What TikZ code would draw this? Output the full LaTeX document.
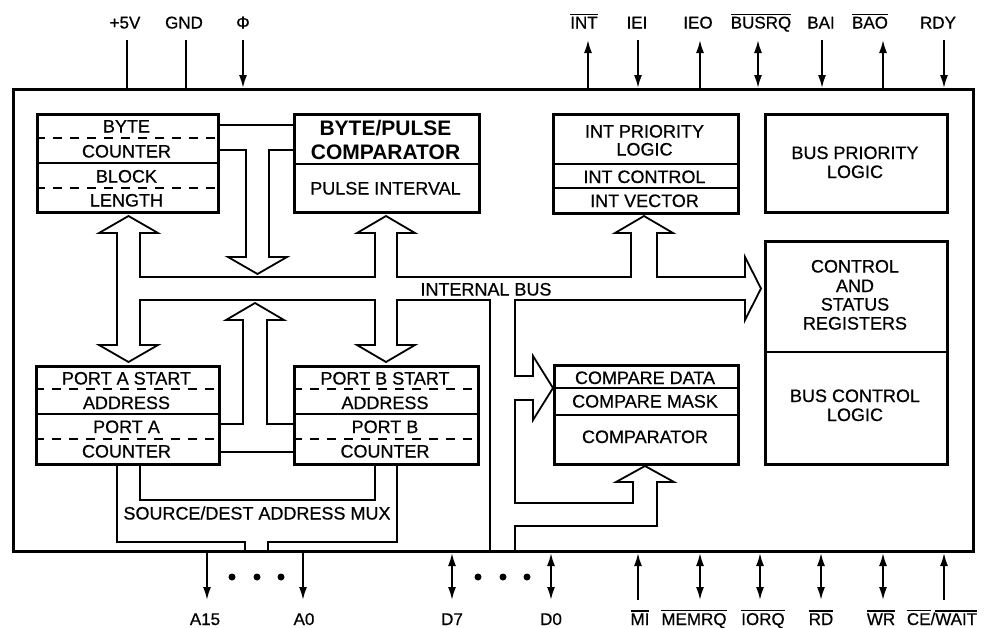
\documentclass[tikz,border=0pt]{standalone}
\usepackage{fontspec}
\setmainfont{Liberation Sans}
\newfontfamily\medfont{Liberation Sans}[FakeBold=0.6]
\usetikzlibrary{arrows.meta}
\newcommand\ovl[1]{\leavevmode\vbox{\hrule height 1.1pt\kern 1.8pt\hbox{#1}}}
\begin{document}
\begin{tikzpicture}[x=1pt,y=-1pt,
  >={Latex[length=13pt,width=8pt]},
  blk/.style={draw, line width=2.6pt, inner sep=0, anchor=north west},
  bus/.style={draw, line width=1.8pt, line join=miter},
  div/.style={line width=1.8pt},
  dsh/.style={line width=1.8pt, dash pattern=on 9pt off 8pt},
  txt/.style={anchor=base, inner sep=0, font=\medfont\fontsize{18}{20}\selectfont},
  ttl/.style={anchor=base, inner sep=0, font=\fontsize{21}{23}\selectfont\bfseries},
  pinl/.style={anchor=base, inner sep=0, font=\medfont\fontsize{17}{19}\selectfont},
  pin/.style={line width=1.8pt},
  dot/.style={fill=black}]
\useasboundingbox (0,0) rectangle (984,627);

% chip outline
\node[blk] (chip) at (12,88) [minimum width=960pt, minimum height=462pt] {};

% blocks
\node[blk, minimum width=181pt, minimum height=98pt] (bc) at (36,113) {};
\node[blk, minimum width=185pt, minimum height=98pt] (bp) at (293,113) {};
\node[blk, minimum width=185pt, minimum height=99pt] (ip) at (552,113) {};
\node[blk, minimum width=182pt, minimum height=98pt] (bpl) at (764,113) {};
\node[blk, minimum width=182pt, minimum height=223pt] (cs) at (764,240) {};
\node[blk, minimum width=183pt, minimum height=98pt] (pa) at (35,365) {};
\node[blk, minimum width=184pt, minimum height=98pt] (pb) at (293,365) {};
\node[blk, minimum width=184pt, minimum height=99pt] (cmp) at (553,364) {};

% dividers
\draw[dsh] (36,138) -- (217,138);
\draw[div] (36,163) -- (217,163);
\draw[dsh] (36,188) -- (217,188);
\draw[div] (293,164) -- (478,164);
\draw[div] (552,164) -- (737,164);
\draw[div] (552,188) -- (737,188);
\draw[div] (764,352) -- (946,352);
\draw[dsh] (35,389) -- (218,389);
\draw[div] (35,414) -- (218,414);
\draw[dsh] (35,439) -- (218,439);
\draw[dsh] (293,389) -- (477,389);
\draw[div] (293,414) -- (477,414);
\draw[dsh] (293,439) -- (477,439);
\draw[div] (553,388) -- (737,388);
\draw[div] (553,415) -- (737,415);

% block texts
\node[txt] (t1) at (126.5,132.5) {BYTE};
\node[txt] (t2) at (126.5,157.5) {COUNTER};
\node[txt] (t3) at (126.5,182.5) {BLOCK};
\node[txt] (t4) at (126.5,206.5) {LENGTH};
\node[ttl] (t5) at (385.5,135) {BYTE/PULSE};
\node[ttl] (t6) at (385.5,159) {COMPARATOR};
\node[txt] (t7) at (385.5,194.5) {PULSE INTERVAL};
\node[txt] (t8) at (644.5,137.5) {INT PRIORITY};
\node[txt] (t9) at (644.5,155.5) {LOGIC};
\node[txt] (t10) at (644.5,183) {INT CONTROL};
\node[txt] (t11) at (644.5,207) {INT VECTOR};
\node[txt] (t12) at (855,159) {BUS PRIORITY};
\node[txt] (t13) at (855,178) {LOGIC};
\node[txt] (t14) at (855,272.5) {CONTROL};
\node[txt] (t15) at (855,292) {AND};
\node[txt] (t16) at (855,310.5) {STATUS};
\node[txt] (t17) at (855,329.5) {REGISTERS};
\node[txt] (t18) at (855,402) {BUS CONTROL};
\node[txt] (t19) at (855,421) {LOGIC};
\node[txt] (t20) at (126.5,384.5) {PORT A START};
\node[txt] (t21) at (126.5,409) {ADDRESS};
\node[txt] (t22) at (126.5,433) {PORT A};
\node[txt] (t23) at (126.5,457.5) {COUNTER};
\node[txt] (t24) at (385,384.5) {PORT B START};
\node[txt] (t25) at (385,409) {ADDRESS};
\node[txt] (t26) at (385,433) {PORT B};
\node[txt] (t27) at (385,457.5) {COUNTER};
\node[txt] (t28) at (645,384) {COMPARE DATA};
\node[txt] (t29) at (645,407.5) {COMPARE MASK};
\node[txt] (t30) at (645,443) {COMPARATOR};
\node[txt] (ib) at (486,295.5) {INTERNAL BUS};
\node[txt] (mux) at (257,519.5) {SOURCE/DEST ADDRESS MUX};

% byte counter <-> comparator
\draw[bus] (217,125) -- (293,125);
\draw[bus] (217,150) -- (246,150) -- (246,257) -- (228,257) -- (257.5,274) -- (287,257) -- (269,257) -- (269,150) -- (293,150);

% port A <-> port B, up to bus
\draw[bus] (218,424) -- (243,424) -- (243,320) -- (226,320) -- (255,303) -- (284,320) -- (267,320) -- (267,424) -- (293,424);
\draw[bus] (218,452) -- (293,452);

% internal bus outline
\draw[bus] (490,550) -- (490,300) -- (397,300) -- (397,345) -- (415,345) -- (386,362) -- (357,345) -- (375,345) -- (375,300)
  -- (140,300) -- (140,345) -- (158,345) -- (128.5,362) -- (99,345) -- (117,345)
  -- (117,233) -- (99,233) -- (128.5,216) -- (158,233) -- (140,233) -- (140,277)
  -- (375,277) -- (375,233) -- (357,233) -- (386,216) -- (415,233) -- (397,233) -- (397,277)
  -- (631,277) -- (631,233) -- (615,233) -- (644,216) -- (673,233) -- (657,233) -- (657,277)
  -- (745,277) -- (745,257) -- (761,288.5) -- (745,320) -- (745,300)
  -- (515,300) -- (515,376) -- (533,376) -- (533,356) -- (553,388) -- (533,420) -- (533,400) -- (515,400)
  -- (515,503) -- (633,503) -- (633,482) -- (616,482) -- (645,466) -- (674,482) -- (657,482) -- (657,526)
  -- (515,526) -- (515,550);

% address mux
\draw[bus] (117,463) -- (117,542) -- (245,542) -- (245,550);
\draw[bus] (268,550) -- (268,542) -- (397,542) -- (397,463);
\draw[bus] (140,463) -- (140,500) -- (375,500) -- (375,463);

% top pins
\draw[pin] (127,40) -- (127,88);
\draw[pin] (186,40) -- (186,88);
\draw[pin,->] (243,40) -- (243,88);
\draw[pin,<-] (588,40) -- (588,88);
\draw[pin,->] (638,40) -- (638,88);
\draw[pin,<-] (700,40) -- (700,88);
\draw[pin,<->] (758,40) -- (758,88);
\draw[pin,->] (822,40) -- (822,88);
\draw[pin,<-] (883,40) -- (883,88);
\draw[pin,->] (944,40) -- (944,88);
\node[pinl] (p1) at (125,28.5) {+5V};
\node[pinl] (p2) at (184,28.5) {GND};
\node[pinl] (p3) at (243,28.5) {Φ};
\node[pinl] (p4) at (584,28.5) {\ovl{INT}};
\node[pinl] (p5) at (637,28.5) {IEI};
\node[pinl] (p6) at (698,28.5) {IEO};
\node[pinl] (p7) at (761,28.5) {\ovl{BUSRQ}};
\node[pinl] (p8) at (821,28.5) {BAI};
\node[pinl] (p9) at (870,28.5) {\ovl{BAO}};
\node[pinl] (p10) at (938,28.5) {RDY};

% bottom pins
\draw[pin,->] (207,553) -- (207,600);
\draw[pin,->] (303,553) -- (303,600);
\draw[pin,<->] (452,553) -- (452,600);
\draw[pin,<->] (551,553) -- (551,600);
\draw[pin,<-] (638,553) -- (638,600);
\draw[pin,<->] (700,553) -- (700,600);
\draw[pin,<->] (760,553) -- (760,600);
\draw[pin,<->] (821,553) -- (821,600);
\draw[pin,<->] (883,553) -- (883,600);
\draw[pin,<-] (944,553) -- (944,600);
\fill[dot] (232,577) circle[radius=3.5pt];
\fill[dot] (257,577) circle[radius=3.5pt];
\fill[dot] (281,577) circle[radius=3.5pt];
\fill[dot] (478,577) circle[radius=3.5pt];
\fill[dot] (503,577) circle[radius=3.5pt];
\fill[dot] (527,577) circle[radius=3.5pt];
\node[pinl] (q1) at (205,625) {A15};
\node[pinl] (q2) at (304,625) {A0};
\node[pinl] (q3) at (452,625) {D7};
\node[pinl] (q4) at (551,625) {D0};
\node[pinl] (q5) at (640,625) {\ovl{MI}};
\node[pinl] (q6) at (694,625) {\ovl{MEMRQ}};
\node[pinl] (q7) at (763,625) {\ovl{IORQ}};
\node[pinl] (q8) at (821,625) {\ovl{RD}};
\node[pinl] (q9) at (881,625) {\ovl{WR}};
\node[pinl] (q10) at (942,625) {\ovl{CE}/\ovl{WAIT}};
\end{tikzpicture}
\end{document}
